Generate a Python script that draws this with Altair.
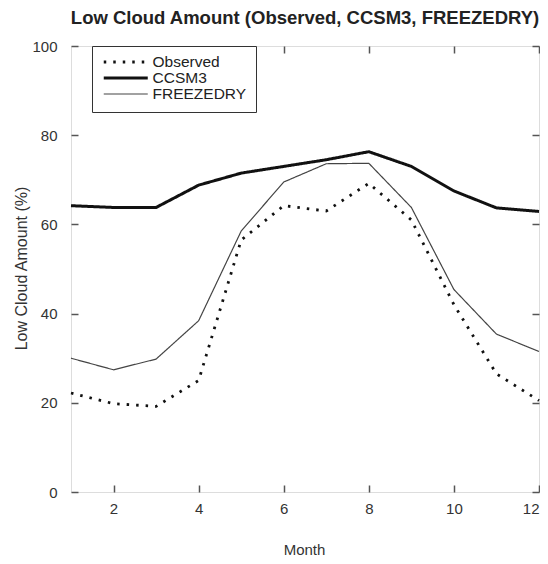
import altair as alt
import pandas as pd

months = [1, 2, 3, 4, 5, 6, 7, 8, 9, 10, 11, 12]
observed = [22.2, 19.8, 19.2, 25.0, 56.5, 64.2, 63.0, 69.2, 61.0, 42.0, 26.5, 20.5]
ccsm3 = [64.2, 63.8, 63.8, 68.8, 71.5, 73.0, 74.5, 76.3, 73.0, 67.5, 63.7, 62.9]
freezedry = [30.0, 27.4, 29.8, 38.4, 58.5, 69.5, 73.6, 73.7, 63.8, 45.4, 35.4, 31.5]
series_names = ["Observed", "CCSM3", "FREEZEDRY"]
x_tick_values = [2, 4, 6, 8, 10, 12]
y_tick_values = [0, 20, 40, 60, 80, 100]

rows = []
for name, vals in zip(series_names, [observed, ccsm3, freezedry]):
    for m, v in zip(months, vals):
        rows.append({"Month": m, "Value": v, "Series": name})
df = pd.DataFrame(rows)

W, H = 468, 446
FONT = "Liberation Sans"
xscale = alt.Scale(domain=[1, 12], nice=False, zero=False)
yscale = alt.Scale(domain=[0, 100], nice=False)

leg = alt.Legend(
    title=None, orient="none", legendX=21, legendY=0,
    symbolType="M-4.4,0H4.4", symbolSize=100, symbolOffset=17,
    labelOffset=19, labelFontSize=15.5, labelFont=FONT, labelColor="#222",
    clipHeight=14, rowPadding=0, padding=9, strokeColor="#333", fillColor="white",
)

base = alt.Chart(df)

lines = base.mark_line().encode(
    x=alt.X("Month:Q", scale=xscale, axis=alt.Axis(
        orient="bottom", values=x_tick_values, ticks=False, domain=False, grid=False,
        labelPadding=9, labelFontSize=15, labelFont=FONT, labelColor="#333",
        title="Month", titleFont=FONT, titleFontSize=15, titleFontWeight="normal",
        titleColor="#333", titleX=233, titleY=57, titleBaseline="middle")),
    y=alt.Y("Value:Q", scale=yscale, axis=alt.Axis(
        orient="left", values=y_tick_values, ticks=False, domain=False, grid=False,
        labelPadding=14, labelFontSize=15, labelFont=FONT, labelColor="#333",
        title="Low Cloud Amount (%)", titleFont=FONT, titleFontSize=16,
        titleFontWeight="normal", titleColor="#333", titleX=-49.5, titleY=222,
        titleBaseline="middle", titleAngle=-90)),
    color=alt.Color("Series:N", scale=alt.Scale(domain=series_names, range=["#111", "#111", "#444"]), legend=leg),
    strokeDash=alt.StrokeDash("Series:N", scale=alt.Scale(domain=series_names, range=[[2.5, 7], [1, 0], [1, 0]]), legend=leg),
    strokeWidth=alt.StrokeWidth("Series:N", scale=alt.Scale(domain=series_names, range=[2.8, 3, 1.2], type="ordinal"), legend=leg),
)

ticks_a = base.mark_point(opacity=0).encode(
    x=alt.X("Month:Q", scale=xscale, axis=alt.Axis(
        orient="top", offset=-H, values=x_tick_values, labels=False, domain=False,
        grid=False, ticks=True, tickSize=7, tickColor="#555", tickWidth=1.5, title=None)),
    y=alt.Y("Value:Q", scale=yscale, axis=alt.Axis(
        orient="right", offset=-W, values=y_tick_values, labels=False, domain=False,
        grid=False, ticks=True, tickSize=7, tickColor="#555", tickWidth=1.5, title=None)),
)

ticks_b = base.mark_point(opacity=0).encode(
    x=alt.X("Month:Q", scale=xscale, axis=alt.Axis(
        orient="bottom", offset=-H, values=x_tick_values, labels=False, domain=False,
        grid=False, ticks=True, tickSize=7, tickColor="#555", tickWidth=1.5, title=None)),
    y=alt.Y("Value:Q", scale=yscale, axis=alt.Axis(
        orient="left", offset=-W, values=y_tick_values, labels=False, domain=False,
        grid=False, ticks=True, tickSize=7, tickColor="#555", tickWidth=1.5, title=None)),
)

chart = alt.layer(lines, ticks_a, ticks_b).properties(
    width=W, height=H,
    autosize=alt.AutoSizeParams(type="none"),
    padding={"left": 63, "top": 38, "right": 1, "bottom": 64},
    title=alt.TitleParams(
        "Low Cloud Amount (Observed, CCSM3, FREEZEDRY)", font=FONT, fontSize=18.5,
        fontWeight="bold", color="#222", anchor="middle", frame="group", offset=12),
).configure_view(stroke="#555", strokeWidth=1.5).configure(background="white")

chart.save("out.html", embed_options={"renderer": "svg", "actions": False})
